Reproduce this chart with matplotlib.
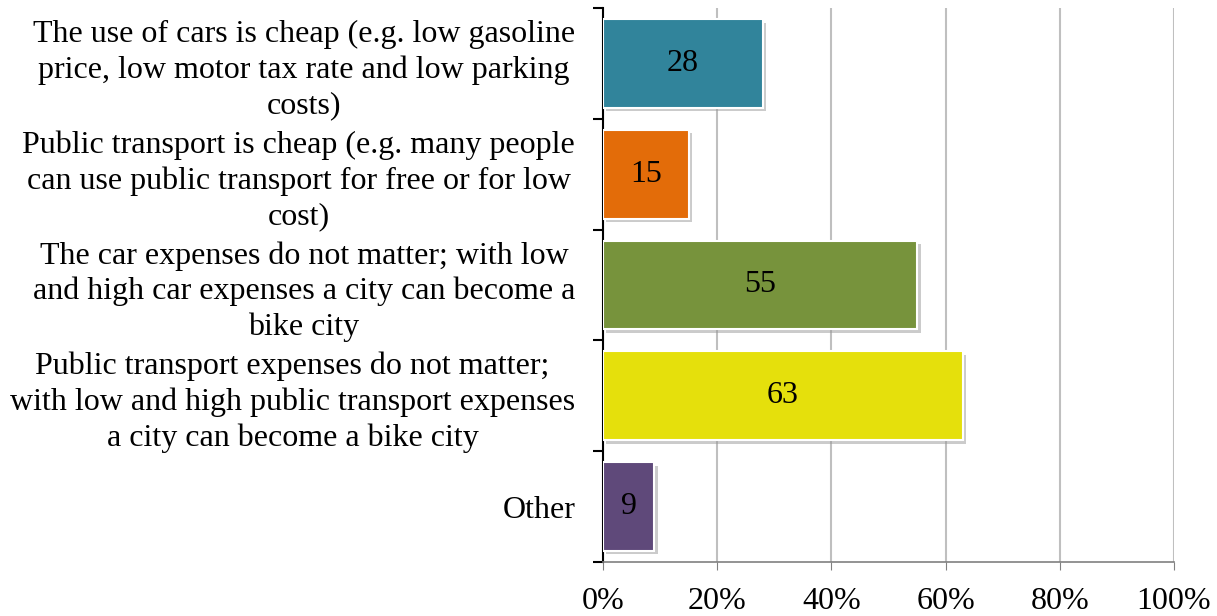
import matplotlib
matplotlib.use("Agg")
import matplotlib.pyplot as plt
import matplotlib.patheffects as pe
from matplotlib.ticker import FixedLocator, FuncFormatter

plt.rcParams['font.family'] = ['Liberation Serif', 'DejaVu Serif']

categories = [
    "The use of cars is cheap (e.g. low gasoline\nprice, low motor tax rate and low parking\ncosts)",
    "Public transport is cheap (e.g. many people\ncan use public transport for free or for low\ncost)",
    "The car expenses do not matter; with low\nand high car expenses a city can become a\nbike city",
    "Public transport expenses do not matter;\nwith low and high public transport expenses\na city can become a bike city",
    "Other",
]
values = [28, 15, 55, 63, 9]
colors = ["#31849B", "#E36C09", "#77933C", "#E5E00C", "#5F497A"]
xticks = [0, 20, 40, 60, 80, 100]

fig = plt.figure(figsize=(12.17, 6.16), dpi=100)
ax = fig.add_axes([603/1217, 1-562/616, (1174-603)/1217, (562-8)/616])

n = len(categories)
ypos = list(range(n))
bars = ax.barh(ypos, values, height=0.8, color=colors, edgecolor='white', linewidth=1.5, zorder=3)
for b in bars:
    b.set_path_effects([pe.SimplePatchShadow(offset=(2.5, -2.5), shadow_rgbFace='#999999', alpha=0.5), pe.Normal()])
for y, v in zip(ypos, values):
    ax.text(v/2, y, str(v), ha='center', va='center', fontsize=23, zorder=4)

ax.set_xlim(0, 100)
ax.set_ylim(n-0.5, -0.5)
ax.set_xticks(xticks)
ax.xaxis.set_major_formatter(FuncFormatter(lambda x, p: f"{int(x)}%"))
ax.tick_params(axis='x', labelsize=23, length=6, color='#808080', pad=12)
ax.grid(axis='x', color='#BFBFBF', linewidth=1.5, zorder=0)
ax.set_axisbelow(True)

ax.set_yticks(ypos)
ax.set_yticklabels(categories, fontsize=23, multialignment='center', linespacing=1.28)
ax.tick_params(axis='y', which='major', length=0, pad=20)
ax.yaxis.set_minor_locator(FixedLocator([i - 0.5 for i in range(n+1)]))
ax.tick_params(axis='y', which='minor', length=7, width=1.5, color='black')

for s in ['top', 'right']:
    ax.spines[s].set_visible(False)
ax.spines['left'].set_color('black')
ax.spines['left'].set_linewidth(1.5)
ax.spines['bottom'].set_color('#808080')
ax.spines['bottom'].set_linewidth(1.2)

fig.savefig("out.png", dpi=100)
